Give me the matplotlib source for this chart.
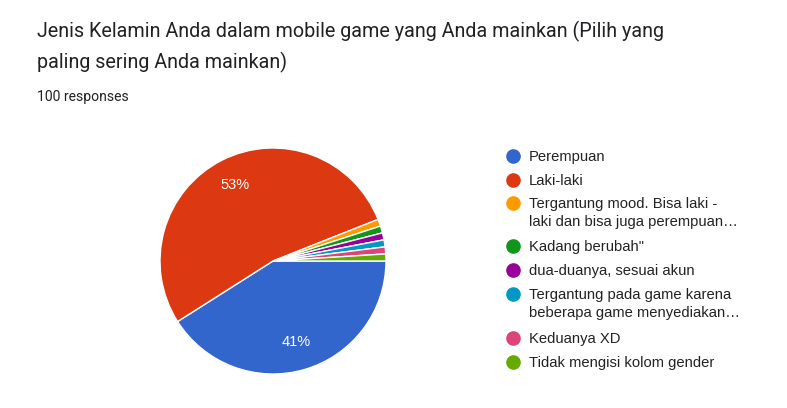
import matplotlib
matplotlib.use("Agg")
import matplotlib.pyplot as plt
from matplotlib.lines import Line2D

title_lines = ["Jenis Kelamin Anda dalam mobile game yang Anda mainkan (Pilih yang",
               "paling sering Anda mainkan)"]
subtitle = "100 responses"
labels = [
    "Perempuan",
    "Laki-laki",
    "Tergantung mood. Bisa laki -\nlaki dan bisa juga perempuan\u2026",
    "Kadang berubah\"",
    "dua-duanya, sesuai akun",
    "Tergantung pada game karena\nbeberapa game menyediakan\u2026",
    "Keduanya XD",
    "Tidak mengisi kolom gender",
]
values = [41, 53, 1, 1, 1, 1, 1, 1]
colors = ["#3366cc", "#dc3912", "#ff9900", "#109618", "#990099", "#0099c6", "#dd4477", "#66aa00"]

W, H = 787, 408
fig = plt.figure(figsize=(W / 100, H / 100), dpi=100)
fig.patch.set_facecolor("white")

cx, cy, r = 273, 261, 113
ax = fig.add_axes([(cx - r) / W, (H - cy - r) / H, 2 * r / W, 2 * r / H])

def fmt(p):
    return f"{p:.0f}%" if p >= 5 else ""

wedges, texts, autotexts = ax.pie(
    values, colors=colors, startangle=0, counterclock=False,
    autopct=fmt, pctdistance=0.75,
    wedgeprops=dict(edgecolor="white", linewidth=1),
    textprops=dict(color="white", fontsize=10.5, family="Liberation Sans"),
)
ax.set_aspect("equal")
ax.set_xlim(-1, 1)
ax.set_ylim(-1, 1)
ax.axis("off")

for i, (line, y) in enumerate(zip(title_lines, [31, 62])):
    fig.text(37 / W, 1 - y / H, line, fontsize=14.2, family="Roboto", color="#202124",
             va="center", ha="left")
fig.text(37 / W, 1 - 97 / H, subtitle, fontsize=10.1, family="Roboto", color="#202124",
         va="center", ha="left")

# legend
row_y = [156, 180, 203, 246, 270, 294, 338, 362]
for lab, col, y in zip(labels, colors, row_y):
    fig.add_artist(Line2D([513 / W], [1 - y / H], marker="o", markersize=9.5,
                          color=col, markeredgecolor=col, transform=fig.transFigure))
    fig.text(529 / W, 1 - (y - 6) / H, lab, fontsize=10.6, family="Liberation Sans", color="#222222",
             va="top", ha="left", linespacing=1.33)

fig.savefig("out.png", dpi=100)
